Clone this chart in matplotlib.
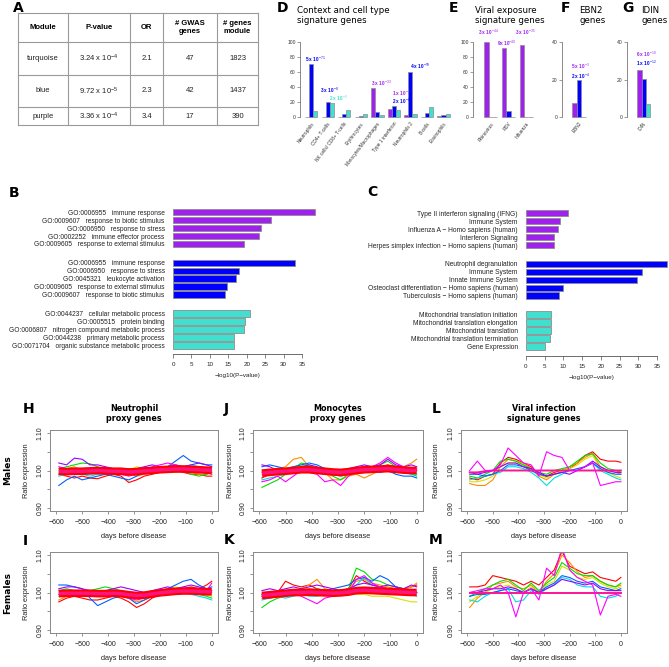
import matplotlib
matplotlib.use("Agg")
import matplotlib.pyplot as plt

plt.rcParams['font.family'] = ['Liberation Sans', 'DejaVu Sans']
plt.rcParams['mathtext.fontset'] = 'custom'
plt.rcParams['mathtext.rm'] = 'Liberation Sans'
plt.rcParams['mathtext.it'] = 'Liberation Sans:italic'
plt.rcParams['mathtext.bf'] = 'Liberation Sans:bold'

W, H = 669, 667
PURPLE = '#A020F0'
BLUE = '#0000FF'
TURQ = '#40E0D0'
EDGE = '#8c8c8c'

# ---- A: table ----
tab_header = ["Module", "P-value", "OR", "# GWAS\ngenes", "# genes\nmodule"]
tab_module = ["turquoise", "blue", "purple"]
tab_pvalue = [r"3.24 x 10$^{-4}$", r"9.72 x 10$^{-5}$", r"3.36 x 10$^{-4}$"]
tab_or = ["2.1", "2.3", "3.4"]
tab_gwas = [47, 42, 17]
tab_ngenes = [1823, 1437, 390]

# ---- D-G: signature gene overlaps (purple, blue, turquoise) ----
d_groups = ["Neutrophils", "CD4+ T-cells", "NK cells/ CD8+ T-cells", "Erythrocytes",
            "Monocytes/Macrophages", "Type 1 interferon", "Neutrophils 2", "B-cells", "Eosinophils"]
d_purple = [0, 0, 0.5, 0, 39, 11, 3, 0, 2]
d_blue = [71, 20, 4, 1, 7, 15, 60, 5, 3]
d_turq = [8, 19, 10, 4, 3, 10, 4, 14, 4]
d_notes = [(0, 1.0, 77, r"5 x 10$^{-71}$", BLUE), (1, 0.5, 36, r"3 x 10$^{-8}$", BLUE),
           (1, 2.5, 25.3, r"2 x 10$^{-5}$", TURQ), (4, 0.9, 45, r"3 x 10$^{-33}$", PURPLE),
           (5, 1.9, 31.5, r"1 x 10$^{-7}$", PURPLE), (5, 1.9, 20.4, r"2 x 10$^{-8}$", BLUE),
           (6, 2.5, 67, r"4 x 10$^{-59}$", BLUE)]

e_groups = ["Rhinovirus", "RSV", "Influenza"]
e_purple = [100, 92, 96]
e_blue = [0, 8, 0]
e_turq = [0, 0, 0]
e_notes = [(0, -0.5, 113, r"3 x 10$^{-44}$", PURPLE), (1, -0.3, 98.7, r"9x 10$^{-40}$", PURPLE),
           (2, -0.2, 113, r"3 x 10$^{-35}$", PURPLE)]

f_groups = ["EBN2"]
f_purple = [7.5]
f_blue = [19.5]
f_turq = [0]
f_notes = [(0, 0.2, 26.8, r"5 x 10$^{-3}$", PURPLE), (0, 0.2, 21.6, r"2 x 10$^{-4}$", BLUE)]

g_groups = ["IDIN"]
g_purple = [25]
g_blue = [20.5]
g_turq = [7]
g_notes = [(0, 0.8, 33.2, r"6 x 10$^{-10}$", PURPLE), (0, 0.8, 28.4, r"1 x 10$^{-12}$", BLUE)]

# ---- B: GO enrichment ----
b_terms_purple = ["GO:0006955   immune response", "GO:0009607   response to biotic stimulus",
                  "GO:0006950   response to stress", "GO:0002252   immune effector process",
                  "GO:0009605   response to external stimulus"]
b_vals_purple = [38.6, 26.6, 23.9, 23.4, 19.3]
b_terms_blue = ["GO:0006955   immune response", "GO:0006950   response to stress",
                "GO:0045321   leukocyte activation", "GO:0009605   response to external stimulus",
                "GO:0009607   response to biotic stimulus"]
b_vals_blue = [33.2, 18.0, 17.1, 14.6, 14.1]
b_terms_turq = ["GO:0044237   cellular metabolic process", "GO:0005515   protein binding",
                "GO:0006807   nitrogen compound metabolic process", "GO:0044238   primary metabolic process",
                "GO:0071704   organic substance metabolic process"]
b_vals_turq = [20.9, 19.5, 19.3, 16.6, 16.6]

# ---- C: pathway enrichment ----
c_terms_purple = ["Type II interferon signaling (IFNG)", "Immune System",
                  "Influenza A \u2212 Homo sapiens (human)", "Interferon Signaling",
                  "Herpes simplex infection \u2212 Homo sapiens (human)"]
c_vals_purple = [11.2, 9.1, 8.6, 7.5, 7.5]
c_terms_blue = ["Neutrophil degranulation", "Immune System", "Innate Immune System",
                "Osteoclast differentiation \u2212 Homo sapiens (human)",
                "Tuberculosis \u2212 Homo sapiens (human)"]
c_vals_blue = [37.7, 31.0, 29.7, 9.9, 8.8]
c_terms_turq = ["Mitochondrial translation initiation", "Mitochondrial translation elongation",
                "Mitochondrial translation", "Mitochondrial translation termination", "Gene Expression"]
c_vals_turq = [6.8, 6.8, 6.8, 6.4, 5.1]

# ---- H-M: ratio expression over time ----
days = [-590, -560, -530, -500, -470, -440, -410, -380, -350, -320, -290,
        -260, -230, -200, -170, -140, -110, -80, -50, -20, 0]
line_colors = ['#FF0000', '#FF8C00', '#D8E000', '#00DD00', '#00DDDD', '#0060FF', '#9A00FF', '#FF00FF']

h_lines = [
    [0.99, 0.985, 0.98, 0.985, 0.98, 0.978, 0.985, 0.99, 0.985, 0.968, 0.975, 0.985, 0.99, 0.995, 1.0, 1.0, 0.995, 0.99, 0.99, 0.985, 0.985],
    [1.0, 1.005, 1.01, 1.0, 0.995, 0.99, 0.99, 0.995, 1.0, 0.99, 0.985, 0.99, 0.995, 1.005, 1.01, 1.005, 1.0, 0.995, 0.99, 0.99, 0.995],
    [1.0, 0.995, 0.99, 1.0, 1.0, 1.005, 1.0, 0.995, 1.0, 1.0, 1.01, 1.005, 1.0, 1.005, 1.0, 0.995, 1.0, 1.005, 1.0, 0.995, 0.99],
    [1.005, 1.01, 1.015, 1.02, 1.018, 1.01, 1.0, 0.995, 1.0, 1.005, 1.0, 0.995, 1.0, 1.005, 1.01, 1.005, 1.0, 0.99, 0.985, 0.99, 0.995],
    [0.985, 0.99, 0.995, 0.99, 0.985, 0.99, 0.995, 1.0, 1.005, 0.995, 0.99, 0.995, 1.0, 1.005, 1.0, 1.005, 1.01, 1.015, 1.01, 1.005, 1.0],
    [0.96, 0.975, 0.985, 0.975, 0.98, 0.985, 0.99, 0.985, 0.98, 0.975, 0.985, 0.995, 1.0, 1.005, 1.01, 1.025, 1.04, 1.025, 1.02, 1.015, 1.015],
    [1.02, 1.015, 1.033, 1.03, 1.015, 1.015, 1.01, 1.005, 1.005, 1.0, 1.005, 1.01, 1.015, 1.01, 1.01, 1.015, 1.01, 1.015, 1.02, 1.015, 1.01],
    [1.01, 1.005, 1.0, 0.995, 1.0, 1.005, 1.0, 0.995, 0.99, 0.985, 0.99, 1.0, 1.01, 1.015, 1.02, 1.015, 1.01, 1.005, 1.0, 0.995, 0.99],
]
h_band = [0.998, 0.997, 0.998, 0.998, 0.999, 1.0, 0.999, 0.998, 0.998, 0.996, 0.997, 0.999, 1.0, 1.002, 1.003, 1.004, 1.004, 1.003, 1.002, 1.001, 1.0]

i_lines = [
    [0.975, 0.985, 0.99, 0.985, 0.98, 0.98, 0.985, 0.99, 0.985, 0.975, 0.96, 0.97, 0.985, 0.995, 1.0, 1.005, 1.01, 1.015, 1.01, 1.02, 1.03],
    [0.98, 0.99, 0.995, 1.0, 0.995, 0.99, 0.995, 1.0, 0.995, 0.985, 0.975, 0.98, 0.99, 1.0, 1.005, 1.0, 1.005, 1.0, 0.995, 0.995, 1.0],
    [0.995, 1.0, 1.005, 1.0, 0.995, 1.0, 1.005, 1.0, 0.995, 0.99, 0.985, 0.99, 0.995, 1.0, 1.01, 1.015, 1.01, 1.005, 1.0, 0.995, 0.99],
    [1.005, 1.01, 1.005, 1.0, 1.005, 1.01, 1.015, 1.01, 1.005, 1.0, 0.995, 1.0, 1.0, 1.005, 1.01, 1.01, 1.005, 1.0, 0.995, 0.99, 0.985],
    [0.99, 0.995, 1.0, 0.995, 0.99, 0.995, 1.0, 1.005, 1.0, 0.99, 0.985, 0.99, 0.995, 1.0, 1.005, 1.005, 1.0, 0.995, 0.99, 0.985, 0.98],
    [1.02, 1.02, 1.015, 1.01, 0.985, 0.965, 0.975, 0.985, 0.99, 0.985, 0.97, 0.98, 0.99, 1.0, 1.01, 1.02, 1.03, 1.035, 1.02, 1.01, 1.015],
    [1.01, 1.015, 1.015, 1.01, 1.005, 1.0, 1.005, 1.01, 1.015, 1.01, 1.005, 1.0, 1.005, 1.01, 1.015, 1.01, 1.015, 1.02, 1.015, 1.01, 1.005],
    [0.995, 1.0, 0.995, 0.99, 0.995, 1.0, 0.995, 0.99, 0.99, 0.985, 0.98, 0.985, 0.99, 1.0, 1.005, 1.01, 1.01, 1.005, 1.0, 1.005, 1.025],
]
i_band = [0.997, 0.998, 0.998, 0.998, 0.998, 0.997, 0.997, 0.998, 0.997, 0.994, 0.992, 0.993, 0.996, 0.999, 1.001, 1.003, 1.004, 1.004, 1.003, 1.002, 1.002]

j_lines = [
    [0.98, 0.99, 0.995, 1.0, 1.005, 1.01, 1.005, 1.0, 0.995, 0.99, 0.985, 0.99, 0.995, 1.0, 1.005, 1.01, 1.015, 1.01, 1.005, 1.0, 1.0],
    [0.995, 1.0, 1.005, 1.01, 1.03, 1.035, 1.01, 1.005, 0.995, 0.975, 0.975, 0.985, 0.99, 0.98, 0.99, 1.0, 1.005, 1.0, 1.01, 1.02, 1.03],
    [0.99, 0.995, 1.0, 1.005, 1.01, 1.015, 1.01, 1.005, 1.0, 0.99, 0.985, 0.995, 1.0, 1.005, 1.005, 1.01, 1.01, 1.005, 1.0, 0.995, 0.99],
    [0.955, 0.965, 0.975, 0.99, 1.005, 1.02, 1.015, 1.005, 0.995, 0.985, 0.975, 0.99, 1.0, 1.005, 1.01, 1.015, 1.025, 1.01, 1.0, 0.99, 0.985],
    [0.975, 0.98, 0.985, 0.99, 1.0, 1.005, 1.0, 0.995, 0.99, 0.99, 0.985, 0.99, 0.995, 1.0, 1.005, 1.005, 1.01, 1.005, 0.995, 0.99, 0.99],
    [1.01, 1.015, 1.01, 1.005, 1.01, 1.015, 1.02, 1.015, 1.005, 1.0, 0.995, 1.0, 1.005, 1.01, 1.0, 0.995, 1.0, 0.99, 0.985, 0.985, 0.98],
    [1.015, 1.01, 1.0, 0.995, 1.0, 1.01, 1.015, 1.01, 1.0, 0.995, 0.99, 1.005, 1.01, 1.015, 1.01, 1.015, 1.03, 1.015, 1.01, 1.015, 1.01],
    [0.97, 0.975, 0.985, 0.97, 0.985, 1.0, 0.995, 0.99, 0.97, 0.975, 0.96, 0.985, 1.0, 1.01, 1.01, 1.02, 1.035, 1.02, 1.01, 1.005, 1.005],
]
j_band = [0.993, 0.995, 0.997, 0.998, 1.0, 1.002, 1.002, 1.0, 0.998, 0.996, 0.995, 0.997, 1.0, 1.002, 1.003, 1.004, 1.005, 1.003, 1.001, 1.0, 1.0]

k_lines = [
    [0.99, 0.995, 1.0, 1.03, 1.02, 1.015, 1.02, 1.01, 1.005, 1.0, 1.005, 1.01, 1.045, 1.03, 1.02, 1.015, 1.01, 1.005, 1.01, 1.015, 1.02],
    [0.985, 0.99, 0.995, 1.0, 1.005, 1.01, 1.02, 1.035, 1.01, 1.005, 1.0, 1.01, 1.03, 1.035, 1.025, 1.02, 1.015, 1.01, 1.01, 1.015, 1.025],
    [0.99, 0.995, 1.0, 1.005, 1.0, 1.005, 1.01, 1.005, 1.0, 0.995, 0.995, 1.0, 0.995, 0.995, 0.99, 0.99, 0.99, 0.985, 0.98, 0.975, 0.975],
    [0.96, 0.975, 0.985, 0.99, 0.995, 1.0, 1.005, 1.01, 1.005, 1.0, 1.005, 1.01, 1.065, 1.055, 1.035, 1.03, 1.02, 1.015, 1.01, 1.005, 1.0],
    [0.98, 0.985, 0.99, 0.985, 0.99, 0.995, 0.99, 0.99, 0.995, 1.0, 1.0, 1.005, 1.02, 1.04, 1.02, 1.015, 1.01, 1.005, 1.0, 0.995, 0.99],
    [0.995, 0.99, 0.995, 1.0, 1.0, 1.005, 1.005, 1.0, 1.005, 1.01, 1.015, 1.02, 1.035, 1.04, 1.03, 1.045, 1.035, 1.015, 1.01, 1.005, 1.0],
    [1.005, 1.01, 1.005, 1.01, 1.015, 1.01, 1.015, 1.02, 1.015, 1.01, 1.005, 1.01, 1.02, 1.025, 1.02, 1.015, 1.02, 1.015, 1.01, 1.02, 1.015],
    [0.99, 0.985, 0.99, 0.995, 1.0, 0.99, 0.98, 0.97, 0.985, 0.99, 0.995, 1.0, 1.035, 1.045, 1.025, 1.015, 1.01, 1.005, 1.0, 1.0, 1.0],
]
k_band = [0.992, 0.994, 0.996, 0.998, 1.0, 1.0, 1.001, 1.0, 0.999, 0.998, 0.999, 1.001, 1.005, 1.006, 1.005, 1.004, 1.003, 1.002, 1.001, 1.0, 1.0]

l_lines = [
    [0.98, 0.975, 0.985, 0.99, 1.02, 1.035, 1.03, 1.02, 1.01, 0.99, 0.985, 0.995, 1.0, 1.005, 1.02, 1.04, 1.05, 1.03, 1.025, 1.025, 1.022],
    [0.965, 0.96, 0.96, 0.975, 1.01, 1.03, 1.025, 1.02, 1.005, 0.985, 0.975, 0.99, 1.0, 1.01, 1.02, 1.035, 1.045, 1.01, 1.0, 0.995, 0.99],
    [0.97, 0.97, 0.975, 0.985, 1.01, 1.02, 1.02, 1.015, 1.0, 0.99, 0.98, 0.99, 1.0, 1.005, 1.015, 1.03, 1.04, 1.005, 0.995, 0.985, 0.98],
    [0.985, 0.98, 0.99, 1.0, 1.025, 1.03, 1.025, 1.015, 1.005, 0.995, 0.99, 1.0, 1.005, 1.01, 1.025, 1.04, 1.045, 1.02, 1.005, 1.0, 0.995],
    [0.975, 0.98, 0.985, 0.99, 0.995, 1.01, 1.01, 1.005, 0.995, 0.98, 0.96, 0.98, 0.99, 1.0, 1.0, 1.01, 1.02, 1.0, 0.99, 0.98, 0.975],
    [0.99, 0.99, 0.985, 0.99, 1.0, 1.015, 1.015, 1.01, 1.0, 0.99, 0.985, 0.99, 0.995, 1.0, 1.005, 1.01, 1.02, 1.005, 0.995, 0.99, 0.99],
    [0.995, 0.99, 0.995, 1.0, 1.01, 1.02, 1.02, 1.01, 1.005, 0.995, 0.985, 0.99, 0.995, 0.99, 1.0, 1.01, 1.025, 1.01, 1.0, 0.995, 0.995],
    [1.0, 1.025, 1.0, 1.0, 1.015, 1.06, 1.04, 1.02, 1.015, 0.985, 1.05, 1.04, 1.035, 1.0, 1.0, 1.01, 1.02, 0.96, 0.965, 0.97, 0.97],
]
l_flat = [0.995, 0.995, 0.998, 1.0, 1.0, 1.0, 1.0, 1.0, 1.0, 1.0, 1.0, 1.0, 1.0, 1.0, 1.0, 1.0, 1.0, 1.0, 1.0, 1.0, 1.0]

m_lines = [
    [1.015, 1.015, 1.02, 1.045, 1.04, 1.035, 1.03, 1.02, 1.03, 1.02, 1.04, 1.06, 1.11, 1.07, 1.06, 1.05, 1.055, 1.04, 1.035, 1.03, 1.04],
    [0.96, 0.985, 1.0, 1.02, 1.025, 1.03, 1.015, 1.01, 1.02, 1.0, 1.03, 1.05, 1.1, 1.08, 1.055, 1.04, 1.045, 1.03, 1.02, 1.015, 1.02],
    [0.975, 0.99, 1.0, 1.01, 1.015, 1.02, 1.01, 1.0, 1.015, 1.0, 1.02, 1.03, 1.07, 1.06, 1.04, 1.035, 1.04, 1.025, 1.015, 1.01, 1.015],
    [0.99, 1.0, 1.01, 1.02, 1.03, 1.035, 1.02, 1.005, 1.025, 1.005, 1.025, 1.04, 1.08, 1.065, 1.05, 1.045, 1.045, 1.03, 1.02, 1.015, 1.025],
    [0.98, 0.975, 0.99, 1.0, 1.005, 1.01, 0.975, 0.98, 1.005, 0.995, 1.01, 1.02, 1.04, 1.035, 1.02, 1.015, 1.015, 0.99, 0.985, 0.99, 1.0],
    [0.99, 0.995, 0.995, 1.0, 1.005, 1.01, 1.005, 1.0, 1.01, 1.0, 1.015, 1.025, 1.045, 1.04, 1.03, 1.025, 1.03, 1.015, 1.01, 1.005, 1.01],
    [1.0, 1.0, 1.005, 1.01, 1.01, 1.015, 1.01, 1.0, 1.01, 1.0, 1.01, 1.02, 1.035, 1.03, 1.025, 1.02, 1.025, 1.01, 1.005, 1.005, 1.005],
    [1.0, 1.005, 1.01, 1.01, 1.02, 1.0, 0.935, 1.0, 1.01, 0.98, 1.065, 1.045, 1.12, 1.06, 1.04, 1.03, 1.02, 0.94, 0.99, 0.995, 0.99],
]
m_flat = [1.0, 1.0, 1.0, 1.0, 1.0, 1.0, 1.0, 1.0, 1.0, 1.0, 1.0, 1.0, 1.0, 1.0, 1.0, 1.0, 1.0, 1.0, 1.0, 1.0, 1.0]

fig = plt.figure(figsize=(W / 100, H / 100), dpi=100)

# full-figure axes in pixel coordinates for free text and the table
bg = fig.add_axes([0, 0, 1, 1])
bg.set_xlim(0, W)
bg.set_ylim(H, 0)
bg.axis('off')


def px_axes(x0, y0, x1, y1):
    return fig.add_axes([x0 / W, 1 - y1 / H, (x1 - x0) / W, (y1 - y0) / H])


def letter(x, y, s):
    bg.text(x, y, s, ha='center', va='center', fontsize=10, fontweight='bold', family='DejaVu Sans')


# ---------- A: table ----------
col_edges = [18, 68, 130, 163, 217, 258]
row_edges = [13, 42, 75, 107, 125]
for x in col_edges:
    bg.plot([x, x], [row_edges[0], row_edges[-1]], color='#9a9a9a', lw=0.8)
for y in row_edges:
    bg.plot([col_edges[0], col_edges[-1]], [y, y], color='#9a9a9a', lw=0.8)
col_mid = [(col_edges[i] + col_edges[i + 1]) / 2 for i in range(5)]
row_mid = [(row_edges[i] + row_edges[i + 1]) / 2 for i in range(4)]
for c, h in enumerate(tab_header):
    bg.text(col_mid[c], row_mid[0], h, ha='center', va='center', fontsize=5.5, fontweight='bold', linespacing=1.1)
for r in range(3):
    cells = [tab_module[r], tab_pvalue[r], tab_or[r], str(tab_gwas[r]), str(tab_ngenes[r])]
    for c, s in enumerate(cells):
        bg.text(col_mid[c], row_mid[r + 1], s, ha='center', va='center', fontsize=5.5, color='#222222')
letter(18, 8, "A")


# ---------- D-G: bar panels ----------
def bar_panel(box, xlim, groups, pur, blu, tur, ymax, yticks, notes):
    ax = px_axes(*box)
    centers = [4 * g + 2.5 for g in range(len(groups))]
    for off, vals, col in [(-1, pur, PURPLE), (0, blu, BLUE), (1, tur, TURQ)]:
        ax.bar([c + off for c in centers], vals, width=1.0, color=col, edgecolor=EDGE, linewidth=0.5, clip_on=False)
    for g, dx, y, s, col in notes:
        ax.text(centers[g] + dx, y, s, ha='center', va='center', fontsize=3.4, fontweight='bold', color=col, clip_on=False)
    ax.set_xlim(*xlim)
    ax.set_ylim(0, ymax)
    for sp in ['top', 'right', 'bottom']:
        ax.spines[sp].set_visible(False)
    ax.spines['left'].set_color('#777777')
    ax.spines['left'].set_linewidth(0.6)
    ax.spines['left'].set_bounds(0, ymax)
    ax.set_yticks(yticks)
    ax.tick_params(axis='y', labelsize=3.6, length=2, width=0.5, pad=1, colors='#777777', labelcolor='#333333')
    ax.set_xticks(centers)
    ax.set_xticklabels(groups, rotation=53, ha='right', rotation_mode='anchor', fontsize=3.4, color='#333333')
    ax.tick_params(axis='x', length=0, pad=3)
    ax.patch.set_alpha(0)
    return ax


bar_panel((300, 42, 453, 117), (-0.2, 36.8), d_groups, d_purple, d_blue, d_turq, 100, [0, 20, 40, 60, 80, 100], d_notes)
bar_panel((473, 42, 535, 117), (-1.5, 12.5), e_groups, e_purple, e_blue, e_turq, 100, [0, 20, 40, 60, 80, 100], e_notes)
bar_panel((562, 42, 590, 117), (-1.3, 4.9), f_groups, f_purple, f_blue, f_turq, 40, [0, 20, 40], f_notes)
bar_panel((627, 42, 652, 117), (-1.6, 4.6), g_groups, g_purple, g_blue, g_turq, 40, [0, 20, 40], g_notes)

letter(282, 8, "D")
letter(454, 8, "E")
letter(565, 8, "F")
letter(628, 8, "G")
for x, s in [(297, "Context and cell type\nsignature genes"), (475, "Viral exposure\nsignature genes"),
             (579, "EBN2\ngenes"), (641, "IDIN\ngenes")]:
    bg.text(x, 15.5, s, ha='left', va='center', fontsize=6.2, family='DejaVu Sans', linespacing=1.15)


# ---------- B, C: enrichment bars ----------
def enrich_panel(box, groups_terms, groups_vals, ylim, fs):
    ax = px_axes(*box)
    cols = [PURPLE, BLUE, TURQ]
    pos, labels = [], []
    for k, (terms, vals) in enumerate(zip(groups_terms, groups_vals)):
        p = [k * 6.375 + j for j in range(len(vals))]
        ax.barh(p, vals, height=0.82, color=cols[k], edgecolor=EDGE, linewidth=0.6, clip_on=False)
        pos += p
        labels += terms
    ax.set_ylim(*ylim)
    ax.set_xlim(0, 35)
    ax.set_yticks(pos)
    ax.set_yticklabels(labels, fontsize=fs, color='#222222')
    ax.tick_params(axis='y', length=0, pad=6)
    for sp in ['top', 'right', 'left']:
        ax.spines[sp].set_visible(False)
    ax.spines['bottom'].set_color('#555555')
    ax.spines['bottom'].set_linewidth(0.6)
    ax.set_xticks([0, 5, 10, 15, 20, 25, 30, 35])
    ax.tick_params(axis='x', labelsize=4.5, length=3, width=0.5, pad=3, colors='#555555', labelcolor='#222222')
    ax.set_xlabel("\u2212log10(P\u2212value)", fontsize=4.5, labelpad=4, color='#222222')
    ax.patch.set_alpha(0)
    return ax


enrich_panel((173, 207, 302, 354), [b_terms_purple, b_terms_blue, b_terms_turq],
             [b_vals_purple, b_vals_blue, b_vals_turq], (17.85, -0.65), 4.8)
enrich_panel((526, 208, 657, 356), [c_terms_purple, c_terms_blue, c_terms_turq],
             [c_vals_purple, c_vals_blue, c_vals_turq], (17.95, -0.65), 4.75)
letter(14, 193, "B")
letter(372, 192, "C")


# ---------- H-M: time course panels ----------
def line_panel(box, lines, band=None, flat=None):
    ax = px_axes(*box)
    for vals, c in zip(lines[:-1], line_colors):
        ax.plot(days, vals, color=c, lw=0.8)
    if flat is not None:
        ax.plot(days, flat, color='#FF1493', lw=1.4)
    ax.plot(days, lines[-1], color=line_colors[-1], lw=0.8)
    if band is not None:
        ax.plot(days, band, color='#FF0000', lw=5.5, solid_capstyle='butt')
        ax.plot(days, band, color='#FF1480', lw=2.5, solid_capstyle='butt')
    ax.set_xlim(-624, 24)
    ax.set_ylim(0.892, 1.108)
    ax.set_xticks([-600, -500, -400, -300, -200, -100, 0])
    ax.set_yticks([0.90, 0.95, 1.00, 1.05, 1.10])
    ax.set_yticklabels(['0.90', '', '1.00', '', '1.10'], rotation=90, va='center')
    ax.tick_params(labelsize=5, length=2.5, width=0.5, colors='#666666', labelcolor='#222222')
    ax.tick_params(axis='x', pad=3)
    ax.tick_params(axis='y', pad=2)
    for sp in ax.spines.values():
        sp.set_color('#888888')
        sp.set_linewidth(0.7)
    return ax


line_panel((50, 430, 218, 511), h_lines, band=h_band)
line_panel((50, 552, 218, 633), i_lines, band=i_band)
line_panel((253, 430, 423, 511), j_lines, band=j_band)
line_panel((253, 552, 423, 633), k_lines, band=k_band)
line_panel((461, 430, 627, 511), l_lines, flat=l_flat)
line_panel((461, 552, 627, 633), m_lines, flat=m_flat)

for xc, s in [(134, "Neutrophil\nproxy genes"), (338, "Monocytes\nproxy genes"), (544, "Viral infection\nsignature genes")]:
    bg.text(xc, 413.5, s, ha='center', va='center', fontsize=5.8, fontweight='bold', family='DejaVu Sans', linespacing=1.2)
for xc in [134, 338, 544]:
    bg.text(xc, 536, "days before disease", ha='center', va='center', fontsize=5.3, color='#222222')
    bg.text(xc, 658, "days before disease", ha='center', va='center', fontsize=5.3, color='#222222')
for xl in [27, 230, 436]:
    for yc in [470.5, 592.5]:
        bg.text(xl, yc, "Ratio expression", ha='center', va='center', rotation=90, fontsize=5.3, color='#222222')
bg.text(8, 470.5, "Males", ha='center', va='center', rotation=90, fontsize=6.5, fontweight='bold', family='DejaVu Sans')
bg.text(8, 592.5, "Females", ha='center', va='center', rotation=90, fontsize=6.5, fontweight='bold', family='DejaVu Sans')
letter(29, 409, "H")
letter(25, 541, "I")
letter(226, 409, "J")
letter(229, 540, "K")
letter(436, 409, "L")
letter(436, 540, "M")

fig.savefig("out.png", dpi=100)
